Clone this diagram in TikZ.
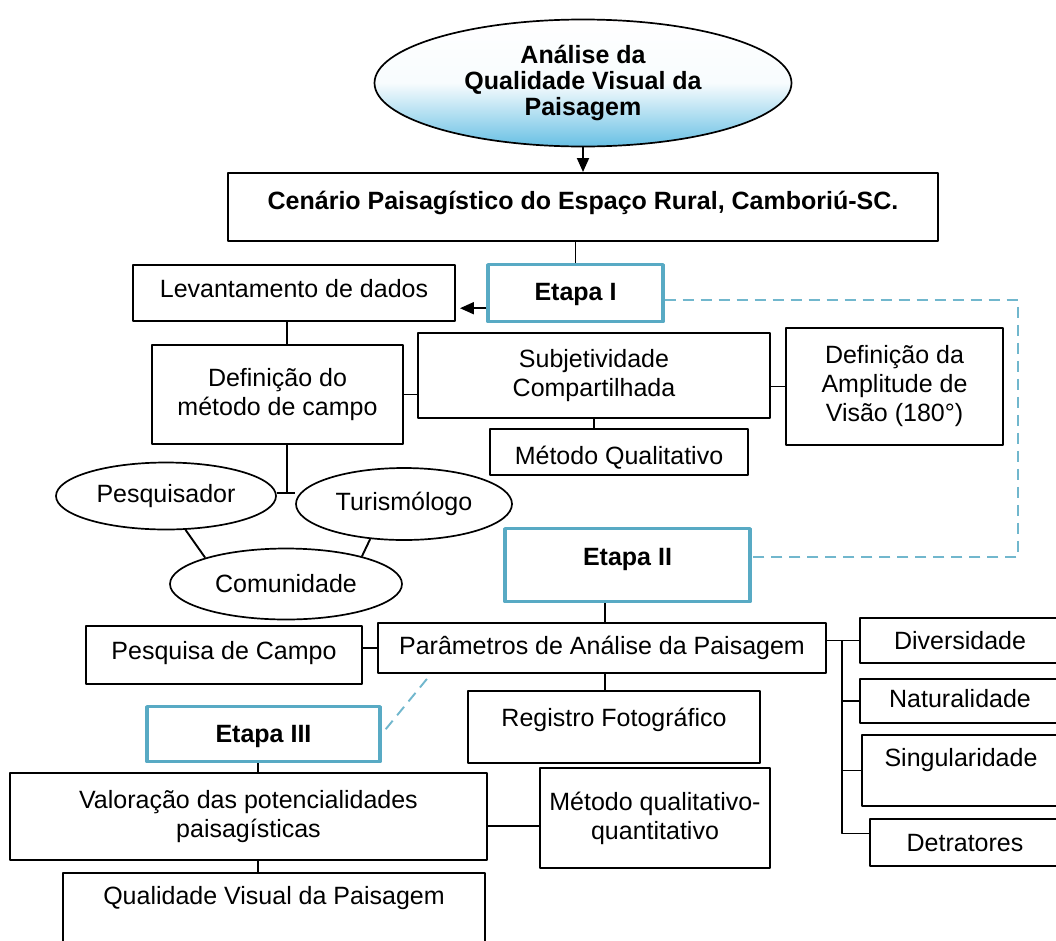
\documentclass[tikz,border=0pt]{standalone}
\usepackage{fontspec}
\setmainfont{Liberation Sans}
\usetikzlibrary{shapes.geometric,arrows.meta,positioning}
\definecolor{etapa}{RGB}{88,170,196}
\definecolor{ceu}{RGB}{104,192,228}
\newcommand\fs{\fontsize{25}{29}\selectfont}
\begin{document}
\begin{tikzpicture}[x=1pt,y=-1pt, line join=round,
    box/.style={draw, line width=1.9pt, inner sep=0pt, align=center, font=\fs},
    ebox/.style={box, draw=etapa, line width=3.4pt, font=\fs\bfseries},
    oval/.style={draw, ellipse, line width=1.7pt, inner sep=0pt, font=\fs},
    link/.style={line width=1.9pt},
    guide/.style={draw=etapa!85!white, line width=1.9pt, dash pattern=on 11pt off 7pt},
    >={Triangle[length=14pt,width=12pt]}]
\useasboundingbox (0,0) rectangle (1056,940);
\clip (0,0) rectangle (1056,940);
\fill[white] (0,0) rectangle (1056,940);
% titulo
\node[oval, top color=white, bottom color=ceu, middle color=white!95!ceu, minimum width=417pt, minimum height=127pt, align=center, font=\bfseries\fontsize{25}{26}\selectfont] (analise) at (583,83) {Análise da\\Qualidade Visual da\\Paisagem};
\node[box, anchor=north, minimum width=710pt, text height=37pt, text depth=31pt, font=\fs\bfseries] (cenario) at (583,172) {Cenário Paisagístico do Espaço Rural, Camboriú-SC.};
% etapa I
\node[ebox, anchor=north, minimum width=175pt, text height=36pt, text depth=21pt] (etapaI) at (575.5,263) {Etapa I};
\node[box, anchor=north, minimum width=322pt, text height=33pt, text depth=23pt] (levant) at (294,264) {Levantamento de dados};
\node[box, minimum width=251pt, minimum height=99pt] (defmet) at (277.5,394.5) {Definição do\\método de campo};
\node[box, minimum width=352pt, minimum height=85pt] (subj) at (594,375.5) {Subjetividade\\Compartilhada};
\node[box, minimum width=217pt, minimum height=117pt] (ampl) at (894.5,386.5) {Definição da\\Amplitude de\\Visão (180°)};
\node[box, anchor=north, minimum width=258pt, text height=36pt, text depth=10pt] (metq) at (619,428) {Método Qualitativo};
\node[oval, minimum width=220pt, minimum height=67pt] (pesqr) at (166,496) {Pesquisador};
\node[oval, minimum width=216pt, minimum height=72pt] (turis) at (404,504) {Turismólogo};
\node[oval, minimum width=232pt, minimum height=71pt] (comun) at (286,584) {Comunidade};
% etapa II
\node[ebox, anchor=north, minimum width=245pt, text height=37pt, text depth=36pt] (etapaII) at (627.5,527) {Etapa II};
\node[box, anchor=north, minimum width=448pt, text height=32pt, text depth=18pt] (param) at (602,622) {Parâmetros de Análise da Paisagem};
\node[box, anchor=north, minimum width=276pt, text height=34pt, text depth=24pt] (pesq) at (224,625) {Pesquisa de Campo};
\node[box, anchor=north, minimum width=292pt, text height=36pt, text depth=36pt] (regist) at (614,690) {Registro Fotográfico};
\node[box, anchor=north, minimum width=200pt, text height=32pt, text depth=13pt] (divers) at (960,617) {Diversidade};
\node[box, anchor=north, minimum width=200pt, text height=29pt, text depth=15pt] (natur) at (960,678) {Naturalidade};
\node[box, anchor=north, minimum width=198pt, text height=32pt, text depth=39pt] (singul) at (961,734) {Singularidade};
\node[box, anchor=north, minimum width=190pt, text height=33pt, text depth=14pt] (detrat) at (965,818) {Detratores};
% etapa III
\node[ebox, anchor=north, minimum width=233pt, text height=36pt, text depth=19pt] (etapaIII) at (263.5,705) {Etapa III};
\node[box, minimum width=477pt, minimum height=87pt] (valor) at (248.5,816.5) {Valoração das potencialidades\\paisagísticas};
\node[box, minimum width=230pt, minimum height=100pt] (mqq) at (655,818) {Método qualitativo-\\quantitativo};
\node[box, anchor=north, minimum width=422pt, text height=32pt, text depth=48pt] (qualid) at (274,872) {Qualidade Visual da Paisagem};
% ligacoes
\draw[->, link] (analise.south) -- (cenario.north);
\draw[link] (etapaI.north) -- (etapaI.north |- cenario.south);
\coordinate (a1) at ([yshift=-15pt]etapaI.west);
\draw[->, link, shorten >=4pt] (a1) -- (a1 -| levant.east);
\coordinate (jn) at (287,493);
\draw[link] (levant.south -| jn) -- (defmet.north -| jn);
\draw[link] (defmet.south -| jn) -- (jn);
\draw[link] (jn -| pesqr.east) -- (jn -| turis.west);
\draw[link] (pesqr.-60) -- (comun.162);
\draw[link] (turis.-134) -- (comun.20);
\draw[link] (defmet.east) -- (defmet.east -| subj.west);
\draw[link] (ampl.west) -- (ampl.west -| subj.east);
\draw[link] (subj.south) -- (subj.south |- metq.north);
\coordinate (d1) at ([yshift=-7pt]etapaI.east);
\coordinate (d2) at ([yshift=8pt]etapaII.east);
\coordinate (dc) at (1018,0);
\draw[guide] (d1) -- (d1 -| dc) -- (d2 -| dc) -- (d2);
\coordinate (c2) at (605,0);
\draw[link] (etapaII.south -| c2) -- (param.north -| c2);
\draw[link] (param.south -| c2) -- (regist.north -| c2);
\draw[link] (param.west) -- (param.west -| pesq.east);
\coordinate (rb) at (842,0);
\coordinate (dt) at ([yshift=9pt]detrat.west);
\draw[link] (divers.west -| param.east) -- (divers.west);
\draw[link] (divers.west -| rb) -- (dt -| rb) -- (dt);
\foreach \b in {natur,singul}{\draw[link] (\b.west -| rb) -- (\b.west);}
\coordinate (e3) at ([xshift=4pt,yshift=5pt]etapaIII.east);
\coordinate (p3) at ([xshift=54pt]param.south west);
\draw[guide] (e3) -- (p3);
\coordinate (c3) at (258,0);
\draw[link] (etapaIII.south -| c3) -- (valor.north -| c3);
\draw[link] (valor.south -| c3) -- (qualid.north -| c3);
\coordinate (m1) at ([yshift=-8pt]mqq.west);
\draw[link] (m1) -- (m1 -| valor.east);
\end{tikzpicture}
\end{document}
